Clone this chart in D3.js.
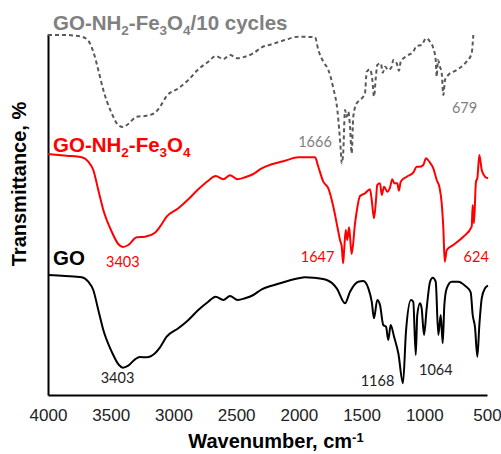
<!DOCTYPE html>
<html>
<head>
<meta charset="utf-8">
<script src="https://cdn.jsdelivr.net/npm/d3@7"></script>
<style>
  body { margin: 0; background: #fff; }
  svg { display: block; font-family: "Liberation Sans", Arial, sans-serif; }
</style>
</head>
<body>
<script>
(function(){

//x ticks (wavenumber, cm-1)
var xTicks = [4000, 3500, 3000, 2500, 2000, 1500, 1000, 500];

//spectra as [wavenumber, transmittance (a.u.)], curves are stacked
var goData = [
  [4000,120],[3864,119],[3731,117.7],[3679,113.3],[3639,105],[3599,85],[3559,65],[3492,43.3],
  [3434,30],[3403,27.3],[3360,29.3],[3306,35.7],[3267,38],[3213,37.7],[3147,41.7],[3107,47.7],
  [3054,58.3],[2961,66.7],[2881,75],[2802,85],[2722,93.3],[2663,98.3],[2602,95],[2549,99],
  [2488,95],[2429,96.7],[2363,100],[2296,105.7],[2217,109.3],[2110,113.3],[2004,116.7],[1951,117.7],
  [1885,117.3],[1778,115],[1698,106.7],[1632,91.7],[1592,103.3],[1526,113.3],[1486,114],[1446,106.7],
  [1419,93.3],[1401,76.7],[1375,95],[1353,90],[1327,70],[1305,68.3],[1287,55],[1268,70],
  [1241,58.3],[1207,41.7],[1170,11.7],[1146,63.3],[1106,95],[1088,93.3],[1068,40],[1056,80],
  [1034,91.7],[1021,86.7],[1002,60],[981,86.7],[954,113.3],[933,117.3],[909,113.3],[888,60],
  [869,80],[853,51.7],[840,90],[821,106.7],[781,113.3],[729,113.3],[675,109.3],[630,102.7],
  [614,80],[596,68.3],[577,38.3],[561,70],[542,96.7],[516,106.7],[492,109.3]
];

var goFeData = [
  [4000,241],[3851,239.3],[3731,237.7],[3679,233.3],[3639,225],[3599,205],[3559,185],[3492,163.3],
  [3440,151],[3403,148],[3360,150],[3293,157.7],[3227,158.3],[3147,162.3],[3107,168.3],[3054,178.3],
  [2961,186.7],[2881,195.7],[2802,205.7],[2722,214.3],[2663,219],[2602,215.7],[2549,219.7],[2488,215.7],
  [2429,217.7],[2363,221],[2296,226.7],[2217,230.7],[2110,234.3],[2004,237.7],[1991,237.7],[1871,237.7],
  [1845,228.3],[1805,213.3],[1765,206.7],[1725,188.3],[1693,168.3],[1672,155],[1658,148.3],[1647,131.7],
  [1638,146.7],[1626,165],[1614,155],[1600,167.7],[1592,158.3],[1579,141],[1552,171.7],[1512,199],
  [1473,201.7],[1433,205.7],[1419,195],[1401,176.7],[1385,195],[1375,210],[1353,211.7],[1339,200],
  [1321,208.3],[1295,203.3],[1273,207.7],[1255,215.7],[1239,211.7],[1215,211.7],[1202,204.3],[1188,213.3],
  [1140,218.3],[1088,222.3],[1060,228.3],[1034,228.3],[1008,230],[986,236.7],[960,233.3],[928,226.7],
  [901,215],[880,208.3],[861,191.7],[848,166.7],[837,133.3],[821,145],[769,150],[689,158.3],
  [622,168.3],[614,190],[604,171.7],[588,213.3],[577,216.7],[561,240],[542,225],[516,218.3],[492,216.7]
];

var goFeCycData = [
  [4000,360],[3864,360],[3731,358.3],[3679,354.3],[3639,343.3],[3599,325],[3559,305],[3492,281.7],
  [3440,270],[3403,268],[3360,271],[3293,278.3],[3227,279],[3147,282.3],[3107,288.3],[3054,299],
  [2961,306.7],[2881,315],[2802,325.7],[2722,333.3],[2663,339],[2602,336],[2549,340],[2488,336.7],
  [2429,338.3],[2363,341.7],[2296,347.7],[2217,350.7],[2110,355],[2004,358.3],[1991,358.3],[1871,357.7],
  [1845,345],[1805,333.3],[1765,325],[1725,306.7],[1693,285],[1678,265],[1666,245],[1658,231.7],
  [1646,243.3],[1632,285],[1619,278.3],[1606,283.3],[1592,268.3],[1579,241.7],[1566,278.3],[1539,291.7],
  [1512,295],[1473,301.7],[1459,323.3],[1433,325.7],[1414,315],[1401,298.3],[1387,316.7],[1375,330],
  [1347,331.7],[1331,322.3],[1313,328.3],[1287,325],[1260,328.3],[1247,335],[1220,331.7],[1202,324.3],
  [1188,333.3],[1140,339],[1088,343.3],[1060,349],[1021,350],[986,356.7],[954,353.3],[928,346.7],
  [909,335],[901,318.3],[891,335],[875,328.3],[861,321.7],[848,300],[835,315],[809,320],
  [742,325],[675,331.7],[622,341.7],[614,351.7],[609,360]
];

//peak labels: [text, wavenumber position, transmittance position]
var goPeaks = [["3403", 3446, 11.7], ["1168", 1373, 9], ["1064", 908, 20]];
var goFePeaks = [["3403", 3403, 127.7], ["1647", 1851, 132.7], ["624", 586, 132.7]];
var goFeCycPeaks = [["1666", 1871, 248], ["679", 679, 282]];

//series names, [text, isSubscript]
var goName = [["GO", 0]];
var goFeName = [["GO-NH", 0], ["2", 1], ["-Fe", 0], ["3", 1], ["O", 0], ["4", 1]];
var goFeCycName = [["GO-NH", 0], ["2", 1], ["-Fe", 0], ["3", 1], ["O", 0], ["4", 1], ["/10 cycles", 0]];

window.onload = drawChart();

function drawChart(){

  var width = 501,
      height = 454;
  var margin = {top: 34, right: 14, bottom: 59, left: 48};

  var svg = d3.select("body")
      .append("svg")
      .attr("width", width)
      .attr("height", height);

  var x = d3.scaleLinear()
      .domain([4000, 500])
      .range([margin.left, width - margin.right]);

  var y = d3.scaleLinear()
      .domain([0, 361])
      .range([height - margin.bottom, margin.top]);

  //x axis
  var xAxis = svg.append("g")
      .attr("transform", "translate(0," + (height - margin.bottom) + ")")
      .call(d3.axisBottom(x).tickValues(xTicks).tickSize(0).tickPadding(14).tickFormat(d3.format("d")));
  xAxis.select(".domain").attr("stroke", "#000").attr("stroke-width", 2);
  xAxis.selectAll("text")
      .attr("fill", "#222")
      .style("font-size", "17px")
      .style("font-family", "'Liberation Sans', Arial, sans-serif");

  //y axis, no ticks
  var yAxis = svg.append("g")
      .attr("transform", "translate(" + margin.left + ",0)")
      .call(d3.axisLeft(y).tickValues([]).tickSizeOuter(0));
  yAxis.select(".domain").attr("stroke", "#000").attr("stroke-width", 2);

  var line = d3.line()
      .x(function(d){ return x(d[0]); })
      .y(function(d){ return y(d[1]); })
      .curve(d3.curveMonotoneX);

  svg.append("path")
      .datum(goData)
      .attr("d", line)
      .attr("fill", "none")
      .attr("stroke", "#000")
      .attr("stroke-width", 2)
      .attr("stroke-linejoin", "round");

  svg.append("path")
      .datum(goFeData)
      .attr("d", line)
      .attr("fill", "none")
      .attr("stroke", "#ff0000")
      .attr("stroke-width", 2)
      .attr("stroke-linejoin", "round");

  svg.append("path")
      .datum(goFeCycData)
      .attr("d", line)
      .attr("fill", "none")
      .attr("stroke", "#595959")
      .attr("stroke-width", 2)
      .attr("stroke-dasharray", "4,3");

  //peak labels
  addPeaks(svg, goPeaks, "#222", x, y);
  addPeaks(svg, goFePeaks, "#ff0000", x, y);
  addPeaks(svg, goFeCycPeaks, "#808080", x, y);

  //series names
  addName(svg, goName, "#000", 53, 265);
  addName(svg, goFeName, "#ff0000", 53, 152);
  addName(svg, goFeCycName, "#808080", 53, 30);

  //axis titles
  var xTitle = svg.append("text")
      .attr("x", 276)
      .attr("y", 448)
      .attr("text-anchor", "middle")
      .style("font-size", "20px")
      .style("font-weight", "bold")
      .text("Wavenumber, cm");
  xTitle.append("tspan")
      .attr("dy", "-0.45em")
      .style("font-size", "13px")
      .text("-1");

  svg.append("text")
      .attr("transform", "translate(26,184) rotate(-90)")
      .attr("text-anchor", "middle")
      .style("font-size", "20px")
      .style("font-weight", "bold")
      .text("Transmittance, %");
};

function addPeaks(svg, peaks, color, x, y){
  svg.selectAll(null)
      .data(peaks)
      .enter()
      .append("text")
      .attr("x", function(d){ return x(d[1]); })
      .attr("y", function(d){ return y(d[2]); })
      .attr("text-anchor", "middle")
      .attr("fill", color)
      .style("font-family", "Lato, 'Open Sans', sans-serif")
      .style("font-size", "14.5px")
      .text(function(d){ return d[0]; });
};

function addName(svg, parts, color, px, py){
  var t = svg.append("text")
      .attr("x", px)
      .attr("y", py)
      .attr("fill", color)
      .style("font-size", "20.5px")
      .style("font-weight", "bold");
  var shift = 0;
  parts.forEach(function(p){
    var dy = p[1] ? 5 - shift : -shift;
    shift += dy;
    t.append("tspan")
        .attr("dy", dy)
        .style("font-size", p[1] ? "13.5px" : "20.5px")
        .text(p[0]);
  });
};

})();
</script>
</body>
</html>
